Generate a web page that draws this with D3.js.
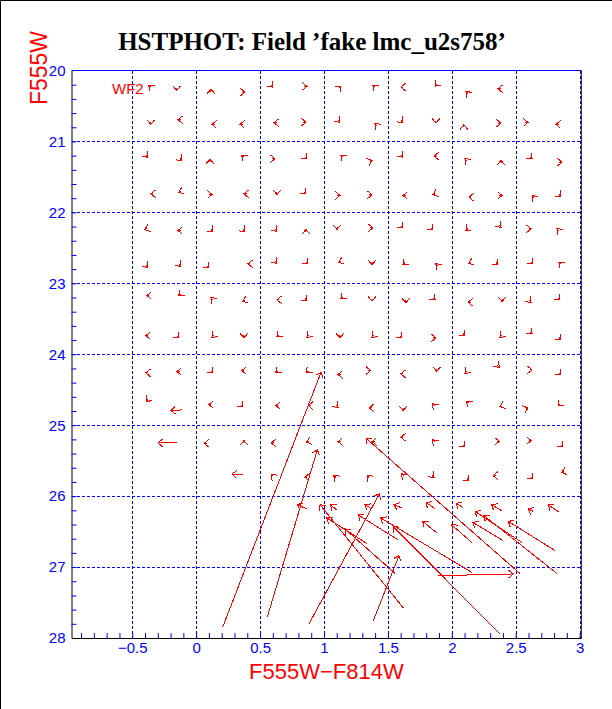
<!DOCTYPE html>
<html>
<head>
<meta charset="utf-8">
<script src="https://cdn.jsdelivr.net/npm/d3@7"></script>
<style>
  body { margin: 0; background: #fff; }
</style>
</head>
<body>
<div id="chart"></div>
<script>
// axis limits and ticks
var colorLim = [-0.975, 3.013];
var magLim = [20, 28];
var colorTicks = [-0.5, 0, 0.5, 1, 1.5, 2, 2.5, 3];
var colorTickLabels = ["\u22120.5", "0", "0.5", "1", "1.5", "2", "2.5", "3"];
var magTicks = [20, 21, 22, 23, 24, 25, 26, 27, 28];
var magGrid = [21, 22, 23, 24, 25, 26, 27];

// small shifts: [color out, mag out, color shift, mag shift], one list per input row
var row2025 = [
  [-0.370, 20.210, -0.014, -0.025], [-0.152, 20.281, 0, 0.035], [0.116, 20.262, 0, -0.035],
  [0.382, 20.305, 0.02, 0], [0.601, 20.234, 0.014, 0.025], [0.867, 20.224, 0.02, 0],
  [1.133, 20.220, 0.014, -0.025], [1.383, 20.206, -0.014, -0.025], [1.602, 20.234, -0.02, 0],
  [1.869, 20.220, -0.014, 0.025], [2.111, 20.299, -0.014, -0.025], [2.361, 20.257, -0.02, 0]
];
var row2075 = [
  [-0.354, 20.760, 0, 0.035], [-0.142, 20.694, -0.02, 0], [0.124, 20.760, -0.02, 0],
  [0.343, 20.760, -0.02, 0], [0.609, 20.736, -0.02, 0], [0.859, 20.728, 0.02, 0],
  [1.125, 20.728, 0.014, 0.025], [1.399, 20.750, -0.014, -0.025], [1.618, 20.732, 0.014, 0.025],
  [1.876, 20.742, 0, 0.035], [2.095, 20.764, 0, -0.035], [2.385, 20.742, 0.02, 0],
  [2.596, 20.732, 0.02, 0], [2.815, 20.760, -0.02, 0]
];
var row2125 = [
  [-0.378, 21.221, 0.014, 0.025], [-0.111, 21.268, 0.014, 0.025], [0.108, 21.250, 0, -0.035],
  [0.358, 21.197, -0.014, -0.025], [0.617, 21.244, 0.02, 0], [0.867, 21.244, 0.014, 0.025],
  [1.133, 21.197, -0.014, -0.025], [1.376, 21.268, 0.018, -0.012], [1.618, 21.221, 0.014, 0.025],
  [1.861, 21.207, -0.02, 0], [2.103, 21.244, -0.014, -0.025], [2.385, 21.268, 0, -0.035],
  [2.628, 21.244, 0.014, 0.025], [2.862, 21.292, 0.02, 0]
];
var row2175 = [
  [-0.354, 21.738, -0.02, 0], [-0.135, 21.715, -0.018, 0.012], [0.124, 21.748, 0.02, 0],
  [0.374, 21.738, -0.02, 0], [0.632, 21.748, 0, 0.035], [0.859, 21.738, 0.014, 0.025],
  [1.125, 21.762, 0.02, 0], [1.376, 21.752, 0.02, 0], [1.618, 21.762, -0.02, 0],
  [1.853, 21.748, -0.018, 0.012], [2.134, 21.786, -0.02, 0], [2.393, 21.762, 0.02, 0],
  [2.628, 21.766, -0.014, -0.025], [2.854, 21.776, 0.014, 0.025]
];
var row2225 = [
  [-0.401, 22.241, -0.018, 0.012], [-0.142, 22.255, -0.02, 0], [0.131, 22.269, 0.014, 0.025],
  [0.382, 22.269, 0.014, 0.025], [0.632, 22.265, 0.014, 0.025], [0.859, 22.241, 0, -0.035],
  [1.102, 22.241, 0, 0.035], [1.383, 22.217, 0.02, 0], [1.618, 22.217, 0.014, 0.025],
  [1.853, 22.245, 0.014, 0.025], [2.111, 22.255, -0.014, 0.025], [2.385, 22.209, 0.014, 0.025],
  [2.620, 22.231, 0.02, 0], [2.823, 22.231, -0.014, -0.025]
];
var row2275 = [
  [-0.378, 22.773, 0.014, 0.025], [-0.119, 22.759, 0.014, 0.025], [0.100, 22.781, 0.014, 0.025],
  [0.405, 22.725, -0.02, 0], [0.632, 22.716, 0.014, 0.025], [0.875, 22.725, 0.014, 0.025],
  [1.117, 22.702, -0.018, 0.012], [1.376, 22.739, 0, 0.035], [1.618, 22.735, -0.014, 0.025],
  [1.876, 22.725, -0.014, -0.025], [2.134, 22.716, -0.018, 0.012], [2.361, 22.735, 0.014, 0.025],
  [2.635, 22.725, 0.014, 0.025], [2.838, 22.702, -0.014, -0.025]
];
var row2325 = [
  [-0.385, 23.172, -0.02, 0], [-0.135, 23.172, -0.014, 0.025], [0.116, 23.204, -0.014, -0.025],
  [0.366, 23.252, -0.018, 0.012], [0.632, 23.233, -0.02, 0], [0.867, 23.243, 0.014, 0.025],
  [1.133, 23.219, -0.014, 0.025], [1.376, 23.252, 0, 0.035], [1.641, 23.275, 0, 0.035],
  [1.869, 23.233, 0.014, 0.025], [2.127, 23.267, -0.02, 0], [2.393, 23.257, 0, 0.035],
  [2.620, 23.267, 0.014, 0.025], [2.846, 23.233, 0.014, 0.025]
];
var row2375 = [
  [-0.393, 23.736, -0.02, 0], [-0.135, 23.769, 0.014, 0.025], [0.124, 23.760, -0.014, 0.025],
  [0.374, 23.769, 0, 0.035], [0.632, 23.750, -0.014, 0.025], [0.867, 23.760, -0.014, 0.025],
  [1.125, 23.769, 0, 0.035], [1.376, 23.760, -0.014, 0.025], [1.610, 23.769, 0.014, 0.025],
  [1.876, 23.769, 0.02, 0], [2.103, 23.736, 0.014, 0.025], [2.377, 23.760, -0.014, 0.025],
  [2.628, 23.712, 0.014, 0.025], [2.854, 23.793, 0.014, 0.025]
];
var row2425 = [
  [-0.393, 24.262, -0.02, 0], [-0.150, 24.244, -0.02, 0], [0.131, 24.262, 0.014, 0.025],
  [0.358, 24.230, -0.02, 0], [0.624, 24.258, -0.014, 0.025], [0.864, 24.262, -0.014, 0.025],
  [1.110, 24.286, -0.02, 0], [1.365, 24.230, 0.02, 0], [1.601, 24.276, -0.02, 0],
  [1.882, 24.240, 0, 0.035], [2.103, 24.268, -0.014, 0.025], [2.371, 24.183, 0.014, 0.025],
  [2.628, 24.220, 0.02, 0], [2.852, 24.286, 0.014, 0.025]
];
var row2475 = [
  [-0.391, 24.663, -0.014, 0.025], [-0.197, 24.794, -0.084, 0.010], [0.100, 24.709, -0.02, 0],
  [0.364, 24.738, 0.014, 0.025], [0.624, 24.724, -0.02, 0], [0.877, 24.724, -0.02, 0],
  [1.110, 24.747, 0.014, 0.025], [1.354, 24.756, -0.02, 0], [1.620, 24.794, 0, 0.035],
  [1.850, 24.700, -0.014, -0.025], [2.117, 24.663, -0.014, -0.025], [2.377, 24.738, -0.018, 0.012],
  [2.596, 24.756, 0.018, -0.012], [2.833, 24.724, -0.014, 0.025]
];
var row2525 = [
  [-0.299, 25.250, -0.149, 0], [0.063, 25.255, -0.02, 0], [0.374, 25.217, 0, -0.035],
  [0.588, 25.250, -0.02, 0], [0.864, 25.241, -0.018, 0.012], [1.110, 25.231, -0.02, 0],
  [1.376, 25.231, -0.02, 0], [1.602, 25.171, -0.02, 0], [1.850, 25.207, -0.014, -0.025],
  [2.103, 25.302, 0.014, 0.025], [2.371, 25.227, 0.02, 0], [2.620, 25.217, 0.02, 0],
  [2.867, 25.302, 0.014, 0.025]
];
var row2575 = [
  [0.280, 25.687, -0.086, -0.014], [0.590, 25.697, -0.014, -0.025], [0.851, 25.735, -0.02, 0],
  [1.078, 25.711, -0.014, -0.025], [1.338, 25.711, -0.014, -0.025], [1.608, 25.687, -0.014, -0.025],
  [1.861, 25.735, 0.014, 0.025], [2.134, 25.781, 0.014, 0.025], [2.324, 25.711, -0.02, 0],
  [2.633, 25.757, 0.014, 0.025], [2.860, 25.669, -0.018, 0.012]
];

// faint inputs with big shifts: [color in, mag in, color out, mag out]
var faintStars = [
  [0.207, 27.851, 0.977, 24.254], [0.556, 27.709, 0.948, 25.348], [0.885, 27.794, 1.433, 25.969],
  [1.386, 27.756, 1.587, 26.839], [1.621, 27.577, 0.969, 26.120], [2.534, 27.093, 1.329, 25.185],
  [1.894, 27.121, 2.481, 27.097], [2.377, 27.944, 1.542, 26.430], [2.156, 27.075, 1.444, 26.307],
  [1.581, 26.618, 1.268, 26.265], [1.334, 26.666, 1.021, 26.307], [1.556, 27.089, 1.164, 26.463],
  [0.864, 26.180, 0.791, 26.120], [1.099, 26.195, 1.052, 26.120], [1.373, 26.180, 1.321, 26.120],
  [1.608, 26.166, 1.548, 26.120], [1.869, 26.180, 1.798, 26.087], [2.085, 26.158, 2.033, 26.101],
  [2.390, 26.205, 2.312, 26.120], [2.637, 26.214, 2.598, 26.181], [2.841, 26.228, 2.755, 26.124],
  [2.547, 26.652, 2.182, 26.214], [2.821, 27.089, 2.252, 26.275], [2.808, 26.769, 2.442, 26.355],
  [2.156, 26.652, 2.000, 26.406], [1.887, 26.525, 1.772, 26.355], [2.403, 26.628, 2.164, 26.369]
];

var smallRows = [row2025, row2075, row2125, row2175, row2225, row2275, row2325,
                 row2375, row2425, row2475, row2525, row2575];

var width = 612, height = 709;
var svg = d3.select("#chart").append("svg")
    .attr("width", width)
    .attr("height", height)
    .style("font-family", "'Liberation Sans', Arial, sans-serif");

var x = d3.scaleLinear().domain(colorLim).range([71.5, 581.3]);
var y = d3.scaleLinear().domain(magLim).range([70.5, 638]);

//outer page frame (left and top edges)
svg.append("path")
    .attr("d", "M0.5," + height + "V0.5H" + width)
    .style("fill", "none")
    .style("stroke", "black");

//title
svg.append("text")
    .attr("x", 312)
    .attr("y", 50)
    .attr("text-anchor", "middle")
    .style("font-family", "'Liberation Serif', 'Times New Roman', serif")
    .style("font-weight", "bold")
    .style("font-size", "25px")
    .text("HSTPHOT: Field \u2019fake lmc_u2s758\u2019");

//grid
var grid = svg.append("g")
    .style("stroke", "#0000ff")
    .style("stroke-dasharray", "3,2")
    .style("shape-rendering", "crispEdges");
grid.selectAll(".vg").data(colorTicks).enter().append("line")
    .attr("x1", function(d) { return Math.round(x(d)) + 0.5; })
    .attr("x2", function(d) { return Math.round(x(d)) + 0.5; })
    .attr("y1", y(magLim[0]))
    .attr("y2", y(magLim[1]));
grid.selectAll(".hg").data(magGrid).enter().append("line")
    .attr("y1", function(d) { return Math.round(y(d)) + 0.5; })
    .attr("y2", function(d) { return Math.round(y(d)) + 0.5; })
    .attr("x1", x(colorLim[0]))
    .attr("x2", x(colorLim[1]));

//minor ticks
var xMinor = d3.range(-9, 31).map(function(i) { return i / 10; });
var yMinor = d3.range(101, 140).map(function(i) { return i / 5; });

var xAxis = svg.append("g")
    .attr("transform", "translate(0," + y(magLim[1]) + ")")
    .call(d3.axisBottom(x).tickValues(xMinor).tickSizeInner(-5).tickSizeOuter(0).tickFormat(""));
xAxis.selectAll(".tick line").style("stroke", "#0000ff");
xAxis.select(".domain").style("stroke", "black");

var yAxis = svg.append("g")
    .attr("transform", "translate(" + x(colorLim[0]) + ",0)")
    .call(d3.axisLeft(y).tickValues(yMinor).tickSizeInner(-5).tickSizeOuter(0).tickFormat(""));
yAxis.selectAll(".tick line").style("stroke", "#0000ff");
yAxis.select(".domain").style("stroke", "black");

//tick labels
var xLab = svg.append("g")
    .attr("transform", "translate(0," + y(magLim[1]) + ")")
    .call(d3.axisBottom(x).tickValues(colorTicks).tickSize(0).tickPadding(4)
        .tickFormat(function(d, i) { return colorTickLabels[i]; }));
xLab.select(".domain").remove();
xLab.selectAll("text").style("fill", "#0000ff").style("font-size", "15px")
    .style("font-family", "'Liberation Sans', Arial, sans-serif");

var yLab = svg.append("g")
    .attr("transform", "translate(" + (x(colorLim[0]) - 6) + ",0)")
    .call(d3.axisLeft(y).tickValues(magTicks).tickSize(0).tickPadding(0));
yLab.select(".domain").remove();
yLab.selectAll("text").style("fill", "#0000ff").style("font-size", "15px")
    .style("font-family", "'Liberation Sans', Arial, sans-serif");

//frame: top blue, right black
svg.append("line")
    .attr("x1", x(colorLim[0])).attr("x2", x(colorLim[1]))
    .attr("y1", y(magLim[0])).attr("y2", y(magLim[0]))
    .style("stroke", "#0000ff");
svg.append("line")
    .attr("x1", x(colorLim[1])).attr("x2", x(colorLim[1]))
    .attr("y1", y(magLim[0])).attr("y2", y(magLim[1]))
    .style("stroke", "black");

//axis titles
svg.append("text")
    .attr("x", (x(colorLim[0]) + x(colorLim[1])) / 2)
    .attr("y", 679)
    .attr("text-anchor", "middle")
    .style("fill", "#ff0000")
    .style("font-size", "22px")
    .text("F555W\u2212F814W");

svg.append("text")
    .attr("transform", "translate(47,68) rotate(-90)")
    .attr("text-anchor", "middle")
    .style("fill", "#ff0000")
    .style("font-size", "23px")
    .text("F555W");

//chip label
svg.append("text")
    .attr("x", 112)
    .attr("y", 94)
    .style("fill", "#ff0000")
    .style("font-size", "15px")
    .text("WF2");

//arrows
var arrows = svg.append("g")
    .style("stroke", "#ff0000")
    .style("stroke-width", "1px")
    .style("fill", "none")
    .style("shape-rendering", "crispEdges");

function drawArrow(group, c0, m0, c1, m1) {
    var x0 = x(c0), y0 = y(m0), x1 = x(c1), y1 = y(m1);
    var a = Math.atan2(y1 - y0, x1 - x0);
    var h = 6, w = 40 * Math.PI / 180;
    group.append("path")
        .attr("d", "M" + x0 + "," + y0 + "L" + x1 + "," + y1 +
            "M" + (x1 - h * Math.cos(a - w)) + "," + (y1 - h * Math.sin(a - w)) +
            "L" + x1 + "," + y1 +
            "L" + (x1 - h * Math.cos(a + w)) + "," + (y1 - h * Math.sin(a + w)));
}

smallRows.forEach(function(row) {
    row.forEach(function(d) {
        drawArrow(arrows, d[0] - d[2], d[1] - d[3], d[0], d[1]);
    });
});
faintStars.forEach(function(d) {
    drawArrow(arrows, d[0], d[1], d[2], d[3]);
});
</script>
</body>
</html>
